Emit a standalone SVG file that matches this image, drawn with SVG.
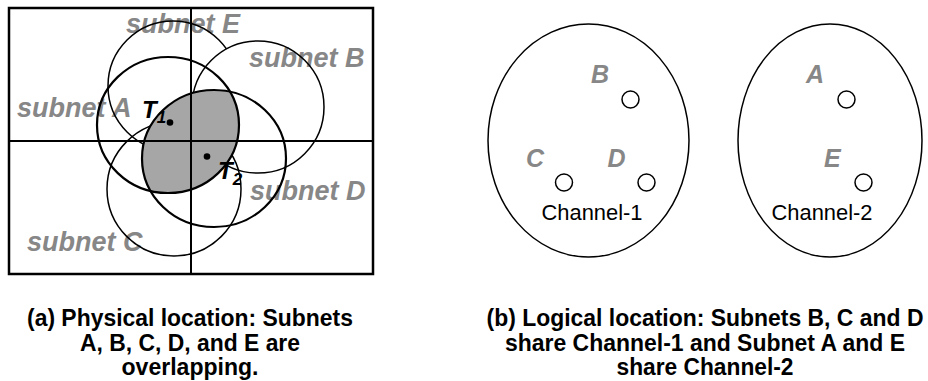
<svg xmlns="http://www.w3.org/2000/svg" width="928" height="381" viewBox="0 0 928 381">
  <style>
    .frame { fill: none; stroke: #000; stroke-width: 2.5; }
    .axis { stroke: #000; stroke-width: 2; }
    .thin { fill: none; stroke: #000; stroke-width: 1.5; }
    .thick { fill: none; stroke: #000; stroke-width: 2.2; }
    .lbl { font-family: "Liberation Sans", Arial, sans-serif; font-weight: bold; font-style: italic; fill: #878787; }
    .big { font-size: 27px; }
    .ltr { font-size: 25px; }
    .t { font-family: "Liberation Sans", Arial, sans-serif; font-weight: bold; font-style: italic; fill: #000; font-size: 24px; }
    .sub { font-size: 17px; }
    .chan { font-family: "Liberation Sans", Arial, sans-serif; font-size: 22px; fill: #000; }
    .cap { font-family: "Liberation Sans", Arial, sans-serif; font-size: 23px; font-weight: bold; fill: #000; text-anchor: middle; }
    .dot { fill: #000; }
    .node { fill: #fff; stroke: #000; stroke-width: 1.5; }
    .oval { fill: none; stroke: #000; stroke-width: 1.5; }
  </style>
  <defs>
    <!-- subnet B sits in front of subnet E, hiding the part of E inside it -->
    <mask id="behindB">
      <rect x="0" y="0" width="928" height="381" fill="#fff"/>
      <circle cx="258" cy="107" r="66" fill="#000"/>
    </mask>
    <clipPath id="insideA">
      <ellipse cx="168" cy="125" rx="71" ry="68"/>
    </clipPath>
  </defs>

  <!-- (a) physical location -->
  <g id="physical">
    <g id="labels">
      <text class="lbl big" x="126" y="33">subnet E</text>
      <text class="lbl big" x="249" y="67">subnet B</text>
      <text class="lbl big" x="17" y="117">subnet A</text>
      <text class="lbl big" x="250" y="200">subnet D</text>
      <text class="lbl big" x="27" y="251">subnet C</text>
    </g>
    <g id="subnet-E"><circle class="thin" cx="173" cy="86" r="65" mask="url(#behindB)"/></g>
    <g id="subnet-B"><circle class="thin" cx="258" cy="107" r="66"/></g>
    <g id="subnet-C"><circle class="thin" cx="174" cy="189" r="67"/></g>
    <!-- overlap of subnets A and D -->
    <g id="overlap"><ellipse cx="214" cy="158.5" rx="72" ry="68.5" fill="#a6a6a6" clip-path="url(#insideA)"/></g>
    <g id="subnet-A"><ellipse class="thick" cx="168" cy="125" rx="71" ry="68"/></g>
    <g id="subnet-D"><ellipse class="thick" cx="214" cy="158.5" rx="72" ry="68.5"/></g>
    <rect class="frame" x="9" y="8" width="364" height="266"/>
    <line class="axis" x1="191" y1="8" x2="191" y2="274"/>
    <line class="axis" x1="9" y1="141" x2="373" y2="141"/>
    <g id="T1">
      <circle class="dot" cx="170" cy="122.5" r="3.3"/>
      <text class="t" x="142" y="117.5">T<tspan class="sub" dy="5.5">1</tspan></text>
    </g>
    <g id="T2">
      <circle class="dot" cx="207" cy="156.5" r="3.3"/>
      <text class="t" x="218" y="178.5">T<tspan class="sub" dy="6.5">2</tspan></text>
    </g>
  </g>

  <!-- (b) logical location -->
  <g id="channel-1">
    <ellipse class="oval" cx="588.5" cy="140.5" rx="100.5" ry="116.5"/>
    <text class="lbl ltr" x="591" y="83">B</text>
    <circle class="node" cx="630.5" cy="99.5" r="8.5"/>
    <text class="lbl ltr" x="526" y="167">C</text>
    <circle class="node" cx="564" cy="182.5" r="8.5"/>
    <text class="lbl ltr" x="607.5" y="167">D</text>
    <circle class="node" cx="646.5" cy="182.5" r="8.5"/>
    <text class="chan" x="541.5" y="220" textLength="101" lengthAdjust="spacingAndGlyphs">Channel-1</text>
  </g>
  <g id="channel-2">
    <ellipse class="oval" cx="830" cy="140.5" rx="92" ry="116.5"/>
    <text class="lbl ltr" x="806" y="83">A</text>
    <circle class="node" cx="846.5" cy="99.5" r="8.5"/>
    <text class="lbl ltr" x="824" y="167">E</text>
    <circle class="node" cx="863.5" cy="182.5" r="8.5"/>
    <text class="chan" x="771.5" y="220" textLength="101" lengthAdjust="spacingAndGlyphs">Channel-2</text>
  </g>

  <!-- captions -->
  <g id="caption-a">
    <text class="cap" x="190" y="326" textLength="326" lengthAdjust="spacingAndGlyphs">(a) Physical location: Subnets</text>
    <text class="cap" x="190" y="350.5" textLength="220" lengthAdjust="spacingAndGlyphs">A, B, C, D, and E are</text>
    <text class="cap" x="190" y="375" textLength="137" lengthAdjust="spacingAndGlyphs">overlapping.</text>
  </g>
  <g id="caption-b">
    <text class="cap" x="705" y="326" textLength="437" lengthAdjust="spacingAndGlyphs">(b) Logical location: Subnets B, C and D</text>
    <text class="cap" x="705" y="350.5" textLength="400" lengthAdjust="spacingAndGlyphs">share Channel-1 and Subnet A and E</text>
    <text class="cap" x="705" y="375" textLength="177" lengthAdjust="spacingAndGlyphs">share Channel-2</text>
  </g>
</svg>
